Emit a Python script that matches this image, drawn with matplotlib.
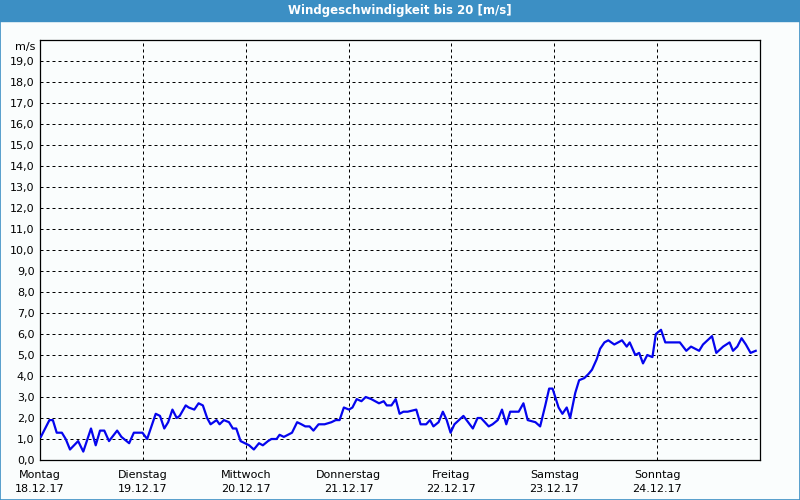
import matplotlib
matplotlib.use("Agg")
import matplotlib.pyplot as plt
from matplotlib.patches import Rectangle

# hours since Monday 18.12.17 00:00, wind speed in m/s
HOURS = [0.2, 2.2, 3.0, 3.9, 5.1, 6.0, 7.0, 8.9, 10.1, 11.9, 13.0, 14.0, 15.0, 16.1,
         18.0, 19.0, 20.8, 21.9, 23.9, 25.0, 27.0, 28.0, 29.0, 29.9, 30.9, 31.9, 32.6,
         34.0, 34.7, 36.0, 37.0, 38.0, 39.0, 39.8, 41.2, 41.9, 42.9, 44.1, 45.0, 45.8,
         46.8, 47.8, 48.8, 49.9, 51.1, 52.0, 53.2, 54.0, 55.2, 55.9, 56.9, 58.8, 60.0,
         61.0, 61.9, 62.9, 63.8, 65.0, 66.4, 68.0, 69.0, 69.9, 70.9, 72.1, 72.9, 73.9,
         75.0, 76.0, 77.3, 79.1, 80.2, 80.9, 82.0, 83.0, 83.9, 84.8, 85.8, 87.8, 88.8,
         90.1, 91.0, 91.8, 93.0, 94.0, 94.9, 95.8, 96.7, 98.8, 101.0, 102.1, 102.9,
         104.7, 105.6, 106.8, 107.8, 108.8, 109.7, 110.7, 111.7, 112.8, 113.8, 115.6,
         116.7, 117.9, 118.8, 119.6, 121.0, 121.9, 122.9, 123.7, 124.9, 125.8, 127.0,
         128.0, 128.8, 129.9, 130.7, 131.7, 132.6, 134.0, 135.8, 136.9, 137.6, 138.9,
         139.8, 140.7, 141.7, 142.9, 143.7, 144.9, 145.9, 147.4, 149.3, 150.8, 151.9,
         153.8, 154.7, 156.8, 157.8, 159.4, 160.9, 161.7, 162.7, 163.7, 164.7, 165.8, 167.0]
SPEED = [1.1, 1.9, 1.9, 1.3, 1.3, 1.0, 0.5, 0.9, 0.4, 1.5, 0.7, 1.4, 1.4, 0.9,
         1.4, 1.1, 0.8, 1.3, 1.3, 1.0, 2.2, 2.1, 1.5, 1.8, 2.4, 2.0, 2.1,
         2.6, 2.5, 2.4, 2.7, 2.6, 2.0, 1.7, 1.9, 1.7, 1.9, 1.8, 1.5, 1.5,
         0.9, 0.8, 0.7, 0.5, 0.8, 0.7, 0.9, 1.0, 1.0, 1.2, 1.1, 1.3, 1.8,
         1.7, 1.6, 1.6, 1.4, 1.7, 1.7, 1.8, 1.9, 1.9, 2.5, 2.4, 2.5, 2.9,
         2.8, 3.0, 2.9, 2.7, 2.8, 2.6, 2.6, 2.9, 2.2, 2.3, 2.3, 2.4, 1.7,
         1.7, 1.9, 1.6, 1.8, 2.3, 1.9, 1.3, 1.7, 2.1, 1.5, 2.0, 2.0,
         1.6, 1.7, 1.9, 2.4, 1.7, 2.3, 2.3, 2.3, 2.7, 1.9, 1.8,
         1.6, 2.6, 3.4, 3.4, 2.5, 2.2, 2.5, 2.0, 3.2, 3.8, 3.9,
         4.1, 4.3, 4.8, 5.3, 5.6, 5.7, 5.5, 5.7, 5.4, 5.6, 5.0,
         5.1, 4.6, 5.0, 4.9, 6.0, 6.2, 5.6, 5.6, 5.6, 5.2, 5.4,
         5.2, 5.5, 5.9, 5.1, 5.4, 5.6, 5.2, 5.4, 5.8, 5.5, 5.1, 5.2]
DAY_NAMES = ["Montag", "Dienstag", "Mittwoch", "Donnerstag", "Freitag", "Samstag", "Sonntag"]
DATES = ["18.12.17", "19.12.17", "20.12.17", "21.12.17", "22.12.17", "23.12.17", "24.12.17"]
TITLE = "Windgeschwindigkeit bis 20 [m/s]"

BG = "#fafdfd"
BAR = "#3c8fc4"

fig = plt.figure(figsize=(8, 5), dpi=100, facecolor=BG)
# title bar + thin outer frame
fig.patches.append(Rectangle((0, 1 - 21 / 500), 1, 21 / 500, transform=fig.transFigure,
                             color=BAR, zorder=0))
fig.patches.append(Rectangle((0.0006, 0.001), 0.9988, 0.998, transform=fig.transFigure,
                             fill=False, edgecolor=BAR, lw=1.2, zorder=1))
fig.text(0.5, 1 - 10.5 / 500, TITLE, ha="center", va="center", color="white",
         fontsize=8.5, fontweight="bold")

ax = fig.add_axes([40 / 800, 40 / 500, 720 / 800, 420 / 500])
ax.set_facecolor(BG)
ax.plot(HOURS, SPEED, color="#0505ee", lw=1.6, zorder=3)

ax.set_xlim(0, 168)
ax.set_ylim(0, 20)
ax.set_yticks(range(0, 20))
ax.set_yticklabels([f"{v},0" for v in range(0, 20)], fontsize=8)
ax.set_xticks([24 * i for i in range(7)])
ax.set_xticklabels([f"{d}\n{t}" for d, t in zip(DAY_NAMES, DATES)], fontsize=8,
                   linespacing=1.55)
ax.tick_params(length=0, pad=4)
ax.tick_params(axis="x", pad=7)
for sp in ax.spines.values():
    sp.set_linewidth(0.9)
    sp.set_color("black")
ax.grid(True, color="black", lw=0.72, ls=(0, (3, 3)))
ax.annotate("m/s", (0, 19.65), xycoords=("axes fraction", "data"), xytext=(-3, 0),
            textcoords="offset points", ha="right", va="center", fontsize=8)

fig.savefig("out.png", dpi=100, facecolor=BG)
